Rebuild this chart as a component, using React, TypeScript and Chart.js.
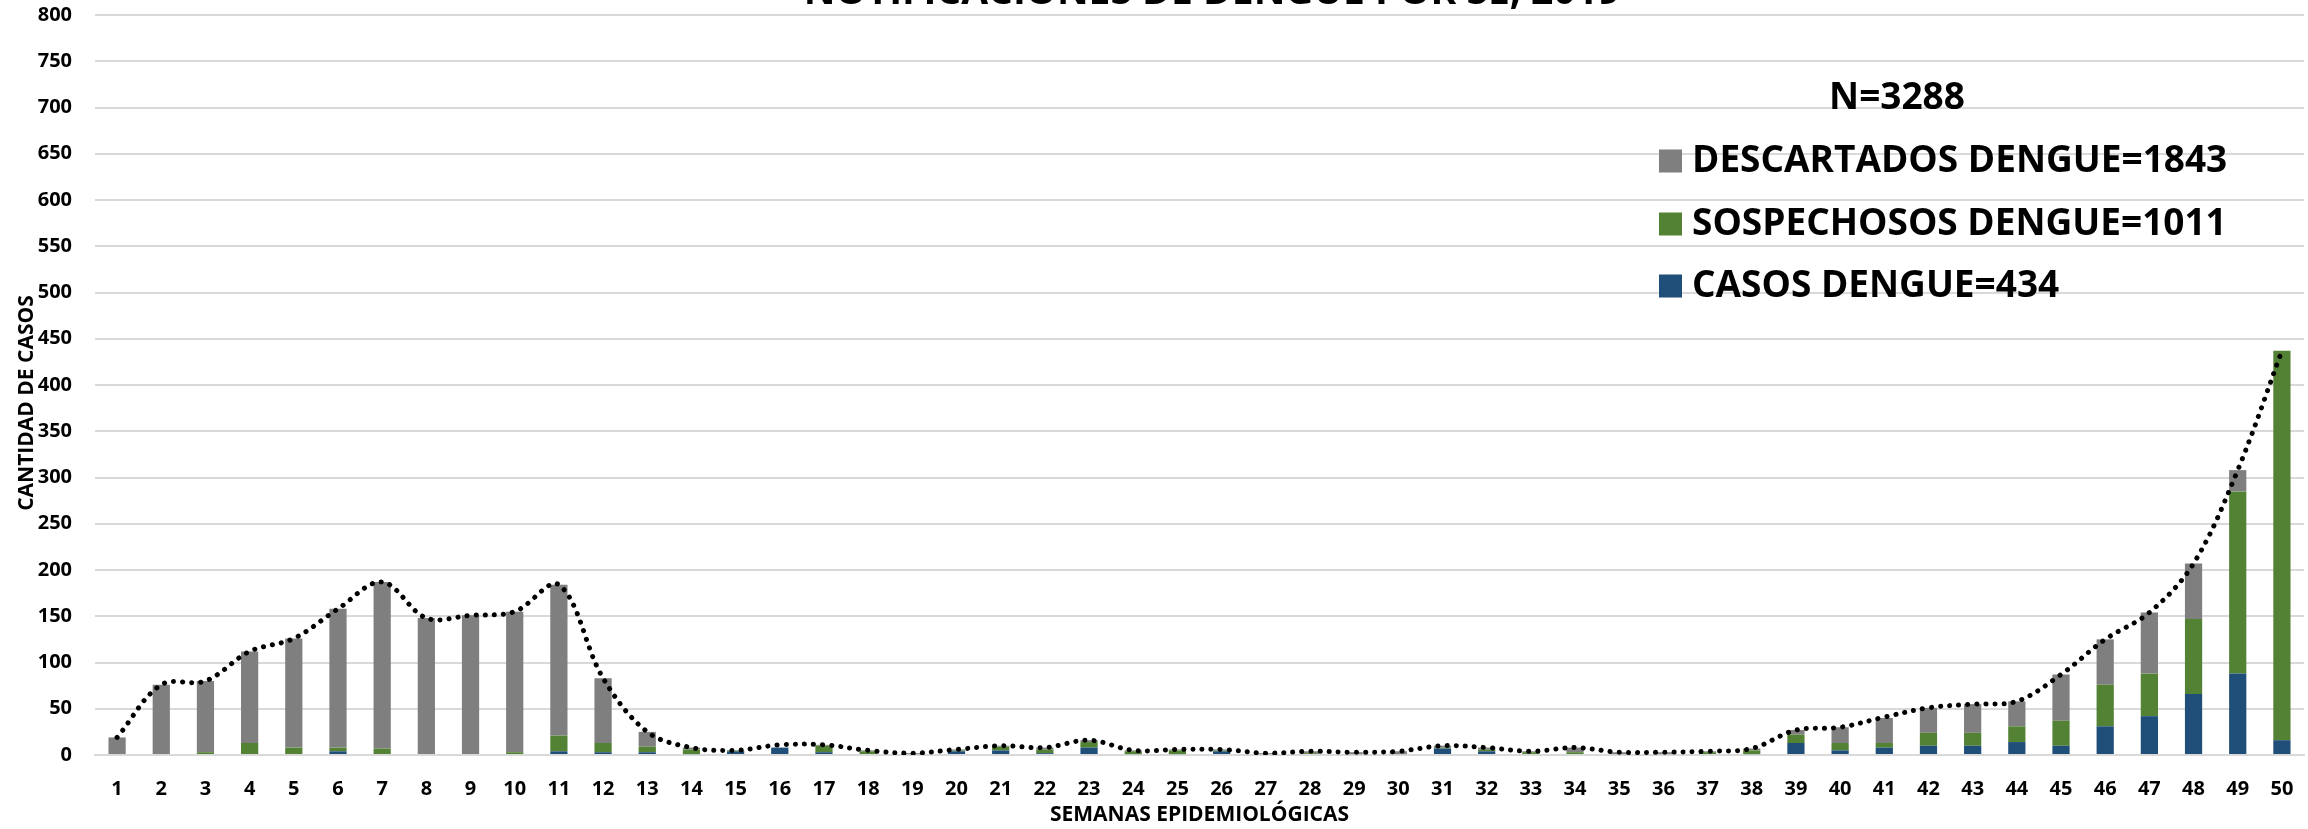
import React, { useEffect, useRef } from "react";
import { Chart, registerables } from "chart.js";

Chart.register(...registerables);

const WEEKS = [
  "1", "2", "3", "4", "5", "6", "7", "8", "9", "10",
  "11", "12", "13", "14", "15", "16", "17", "18", "19", "20",
  "21", "22", "23", "24", "25", "26", "27", "28", "29", "30",
  "31", "32", "33", "34", "35", "36", "37", "38", "39", "40",
  "41", "42", "43", "44", "45", "46", "47", "48", "49", "50",
];

const CASOS = [
  0, 0, 0, 0, 0, 4, 0, 0, 0, 0, 4, 3, 3,
  1, 4, 8, 3, 0, 0, 4, 5, 2, 8, 1, 1,
  4, 0, 0, 0, 0, 7, 4, 0, 0, 0, 0, 0, 1,
  13, 5, 8, 10, 10, 14, 10, 31, 42, 66, 88, 16,
];

const SOSPECHOSOS = [
  0, 0, 3, 13, 8, 4, 7, 0, 0, 3, 17, 10, 6,
  5, 1, 0, 7, 4, 1, 1, 4, 4, 6, 3, 4,
  1, 1, 2, 1, 1, 1, 2, 3, 3, 1, 1, 3, 4,
  9, 8, 5, 14, 14, 17, 27, 45, 46, 81, 197, 421,
];

const DESCARTADOS = [
  19, 76, 77, 99, 118, 150, 180, 148, 151, 152, 163, 70, 16,
  2, 0, 0, 1, 1, 1, 1, 1, 2, 2, 1, 1,
  1, 1, 2, 2, 3, 2, 2, 1, 5, 2, 2, 1, 2,
  5, 17, 27, 27, 31, 27, 50, 49, 66, 60, 23, 0,
];

const TOTAL = [
  19, 76, 80, 112, 126, 158, 187, 148, 151, 155, 184, 83, 25,
  8, 5, 11, 11, 5, 2, 6, 10, 8, 16, 5, 6,
  6, 2, 4, 3, 4, 10, 8, 4, 8, 3, 3, 4, 7,
  27, 30, 41, 51, 55, 58, 87, 125, 154, 207, 308, 437,
];

const Y_MIN = 0;
const Y_MAX = 800;
const Y_STEP = 50;

const TITLE = "NOTIFICACIONES DE DENGUE POR SE, 2019";
const X_TITLE = "SEMANAS EPIDEMIOLÓGICAS";
const Y_TITLE = "CANTIDAD DE CASOS";
const LEGEND_HEADER = "N=3288";
const LEGEND_LABELS = [
  "DESCARTADOS DENGUE=1843",
  "SOSPECHOSOS DENGUE=1011",
  "CASOS DENGUE=434",
];

const C_CASOS = "#1F4E79";
const C_SOSP = "#548235";
const C_DESC = "#7F7F7F";
const LEGEND_COLORS = [C_DESC, C_SOSP, C_CASOS];

const FONT = "'Open Sans', 'DejaVu Sans', sans-serif";

const overlayPlugin = {
  id: "overlay",
  afterDraw(chart: any) {
    const ctx = chart.ctx as CanvasRenderingContext2D;
    const area = chart.chartArea;
    ctx.save();
    ctx.fillStyle = "#000";

    // Title (cut off at top)
    ctx.font = `bold 39px ${FONT}`;
    ctx.textAlign = "center";
    ctx.textBaseline = "alphabetic";
    ctx.fillText(TITLE, 1212, 4);

    // X axis title
    ctx.font = `bold 21px ${FONT}`;
    ctx.textBaseline = "middle";
    ctx.fillText(X_TITLE, (area.left + area.right) / 2, 815);

    // Y axis title
    ctx.save();
    ctx.translate(27, (area.top + area.bottom) / 2 + 18);
    ctx.rotate(-Math.PI / 2);
    ctx.font = `bold 21px ${FONT}`;
    ctx.fillText(Y_TITLE, 0, 0);
    ctx.restore();

    // Legend
    ctx.font = `bold 37px ${FONT}`;
    ctx.textAlign = "center";
    ctx.fillText(LEGEND_HEADER, 1897, 98);
    const rows = [161, 224, 286];
    ctx.textAlign = "left";
    LEGEND_LABELS.forEach((lab, i) => {
      ctx.fillStyle = LEGEND_COLORS[i];
      ctx.fillRect(1659, rows[i] - 11.5, 23, 23);
      ctx.fillStyle = "#000";
      ctx.fillText(lab, 1692, rows[i]);
    });
    ctx.restore();
  },
};

export default function App() {
  const ref = useRef<HTMLCanvasElement | null>(null);

  useEffect(() => {
    if (!ref.current) return;
    const chart = new Chart(ref.current, {
      type: "bar",
      data: {
        labels: WEEKS,
        datasets: [
          {
            type: "line",
            label: "TOTAL",
            data: TOTAL,
            stack: "total",
            order: 0,
            borderColor: "#000",
            borderWidth: 5,
            borderDash: [0.1, 9],
            borderCapStyle: "round",
            pointRadius: 0,
            tension: 0.35,
            fill: false,
          } as any,
          {
            label: "CASOS DENGUE",
            data: CASOS,
            backgroundColor: C_CASOS,
            stack: "bars",
            order: 1,
            barPercentage: 0.39,
            categoryPercentage: 1,
          },
          {
            label: "SOSPECHOSOS DENGUE",
            data: SOSPECHOSOS,
            backgroundColor: C_SOSP,
            stack: "bars",
            order: 1,
            barPercentage: 0.39,
            categoryPercentage: 1,
          },
          {
            label: "DESCARTADOS DENGUE",
            data: DESCARTADOS,
            backgroundColor: C_DESC,
            stack: "bars",
            order: 1,
            barPercentage: 0.39,
            categoryPercentage: 1,
          },
        ],
      },
      options: {
        animation: false,
        responsive: false,
        devicePixelRatio: 1,
        layout: { padding: { left: 0, right: 4, top: 15, bottom: 0 } },
        plugins: {
          legend: { display: false },
          title: { display: false },
          tooltip: { enabled: false },
        },
        scales: {
          x: {
            stacked: true,
            grid: { display: false, drawTicks: false },
            border: { display: true, color: "#D9D9D9", width: 2 },
            ticks: {
              color: "#000",
              font: { family: FONT, weight: "bold", size: 20 },
              padding: 22,
              maxRotation: 0,
              autoSkip: false,
            },
            afterFit(scale: any) {
              scale.height = 74;
              scale.paddingLeft = 0;
              scale.paddingRight = 0;
            },
          },
          y: {
            stacked: true,
            min: Y_MIN,
            max: Y_MAX,
            grid: { color: "#D9D9D9", lineWidth: 2, drawTicks: false },
            border: { display: false },
            ticks: {
              stepSize: Y_STEP,
              color: "#000",
              font: { family: FONT, weight: "bold", size: 20 },
              padding: 23,
            },
            afterFit(scale: any) {
              scale.width = 95;
              scale.paddingTop = 0;
              scale.paddingBottom = 0;
            },
          },
        },
      },
      plugins: [overlayPlugin],
    });
    return () => chart.destroy();
  }, []);

  return (
    <div style={{ position: "absolute", left: 0, top: 0, width: 2308, height: 829, background: "#fff" }}>
      <canvas ref={ref} width={2308} height={829} style={{ width: 2308, height: 829, display: "block" }} />
    </div>
  );
}
